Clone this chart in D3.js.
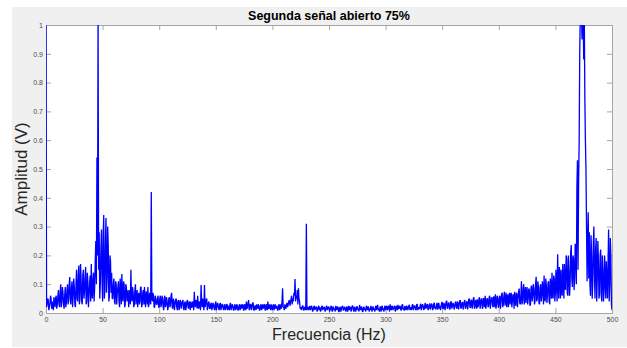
<!DOCTYPE html>
<html>
<head>
<meta charset="utf-8">
<script src="https://cdn.jsdelivr.net/npm/d3@7"></script>
<style>
  html, body { margin: 0; padding: 0; background: #ffffff; }
  svg { display: block; font-family: "Liberation Sans", Arial, sans-serif; }
</style>
</head>
<body>
<div id="chart"></div>
<script>
// Amplitude spectrum.
// ampXtoY: bins at whole Hz; halfXtoY: bins at whole Hz + 0.5
const freqStep = 1;
const amp0to99 = [
  1.0, 0.03, 0.045, 0.02, 0.06, 0.015, 0.04, 0.055, 0.02, 0.06,
  0.03, 0.08, 0.02, 0.1, 0.04, 0.07, 0.015, 0.09, 0.035, 0.1,
  0.05, 0.125, 0.03, 0.11, 0.06, 0.09, 0.02, 0.15, 0.04, 0.165,
  0.05, 0.12, 0.03, 0.15, 0.07, 0.16, 0.04, 0.11, 0.06, 0.13,
  0.17, 0.05, 0.14, 0.09, 0.25, 0.54, 1.05, 0.28, 0.1, 0.29,
  0.04, 0.34, 0.08, 0.33, 0.12, 0.23, 0.06, 0.18, 0.14, 0.05,
  0.12, 0.03, 0.1, 0.07, 0.11, 0.02, 0.08, 0.135, 0.04, 0.1,
  0.03, 0.09, 0.06, 0.02, 0.08, 0.15, 0.04, 0.07, 0.03, 0.1,
  0.05, 0.02, 0.07, 0.04, 0.09, 0.03, 0.08, 0.09, 0.02, 0.06,
  0.09, 0.03, 0.05, 0.42, 0.04, 0.06, 0.02, 0.05, 0.03, 0.06
];
const half0to99 = [
  0.02, 0.05, 0.01, 0.035, 0.05, 0.02, 0.01, 0.04, 0.05, 0.015,
  0.06, 0.03, 0.07, 0.02, 0.09, 0.03, 0.06, 0.02, 0.08, 0.03,
  0.1, 0.04, 0.09, 0.02, 0.12, 0.03, 0.1, 0.05, 0.13, 0.03,
  0.17, 0.04, 0.13, 0.05, 0.12, 0.03, 0.14, 0.02, 0.1, 0.04,
  0.07, 0.12, 0.04, 0.18, 0.1, 0.2, 0.15, 0.05, 0.22, 0.12,
  0.27, 0.05, 0.25, 0.07, 0.3, 0.04, 0.2, 0.07, 0.05, 0.1,
  0.04, 0.11, 0.03, 0.09, 0.04, 0.12, 0.03, 0.05, 0.11, 0.02,
  0.1, 0.04, 0.08, 0.06, 0.03, 0.05, 0.09, 0.02, 0.08, 0.03,
  0.08, 0.06, 0.03, 0.09, 0.02, 0.07, 0.03, 0.04, 0.075, 0.03,
  0.02, 0.07, 0.03, 0.05, 0.07, 0.02, 0.06, 0.03, 0.05, 0.02
];
const amp100to199 = [
  0.02, 0.06, 0.03, 0.05, 0.01, 0.06, 0.03, 0.04, 0.02, 0.055,
  0.03, 0.07, 0.015, 0.04, 0.03, 0.05, 0.01, 0.045, 0.02, 0.04,
  0.03, 0.045, 0.01, 0.04, 0.025, 0.045, 0.015, 0.035, 0.04, 0.02,
  0.03, 0.074, 0.02, 0.04, 0.06, 0.015, 0.035, 0.097, 0.02, 0.03,
  0.097, 0.03, 0.05, 0.02, 0.04, 0.015, 0.035, 0.02, 0.03, 0.01,
  0.04, 0.02, 0.03, 0.01, 0.035, 0.02, 0.03, 0.01, 0.03, 0.015,
  0.03, 0.02, 0.01, 0.035, 0.02, 0.025, 0.01, 0.03, 0.015, 0.025,
  0.01, 0.03, 0.02, 0.015, 0.03, 0.01, 0.025, 0.04, 0.02, 0.045,
  0.015, 0.03, 0.02, 0.035, 0.01, 0.025, 0.03, 0.015, 0.025, 0.01,
  0.03, 0.02, 0.015, 0.03, 0.01, 0.025, 0.04, 0.015, 0.02, 0.03
];
const half100to199 = [
  0.05, 0.02, 0.06, 0.02, 0.05, 0.02, 0.055, 0.01, 0.05, 0.02,
  0.06, 0.02, 0.05, 0.01, 0.045, 0.02, 0.04, 0.01, 0.045, 0.015,
  0.04, 0.015, 0.035, 0.01, 0.04, 0.02, 0.04, 0.01, 0.02, 0.04,
  0.01, 0.03, 0.045, 0.015, 0.025, 0.04, 0.01, 0.04, 0.05, 0.01,
  0.02, 0.045, 0.01, 0.035, 0.015, 0.03, 0.01, 0.035, 0.015, 0.03,
  0.01, 0.035, 0.015, 0.03, 0.01, 0.03, 0.015, 0.025, 0.01, 0.03,
  0.01, 0.025, 0.03, 0.01, 0.03, 0.01, 0.025, 0.01, 0.03, 0.01,
  0.025, 0.01, 0.03, 0.025, 0.01, 0.03, 0.01, 0.015, 0.035, 0.01,
  0.03, 0.01, 0.035, 0.01, 0.025, 0.01, 0.02, 0.03, 0.01, 0.025,
  0.01, 0.03, 0.025, 0.01, 0.03, 0.01, 0.015, 0.03, 0.01, 0.02
];
const amp200to299 = [
  0.01, 0.03, 0.02, 0.015, 0.025, 0.01, 0.03, 0.02, 0.015, 0.086,
  0.02, 0.03, 0.015, 0.035, 0.03, 0.045, 0.035, 0.06, 0.05, 0.07,
  0.118, 0.06, 0.08, 0.086, 0.04, 0.02, 0.015, 0.025, 0.01, 0.02,
  0.31, 0.02, 0.01, 0.025, 0.015, 0.02, 0.01, 0.025, 0.015, 0.02,
  0.01, 0.025, 0.02, 0.01, 0.025, 0.015, 0.02, 0.01, 0.025, 0.015,
  0.02, 0.01, 0.025, 0.005, 0.02, 0.015, 0.025, 0.01, 0.02, 0.005,
  0.02, 0.015, 0.025, 0.01, 0.02, 0.005, 0.022, 0.015, 0.01, 0.02,
  0.015, 0.025, 0.005, 0.02, 0.01, 0.022, 0.015, 0.028, 0.01, 0.02,
  0.005, 0.02, 0.015, 0.025, 0.01, 0.02, 0.015, 0.025, 0.005, 0.022,
  0.015, 0.02, 0.01, 0.028, 0.015, 0.02, 0.005, 0.025, 0.015, 0.02
];
const half200to299 = [
  0.025, 0.01, 0.03, 0.02, 0.01, 0.025, 0.01, 0.03, 0.04, 0.02,
  0.01, 0.02, 0.03, 0.02, 0.04, 0.025, 0.05, 0.03, 0.04, 0.06,
  0.04, 0.05, 0.03, 0.05, 0.015, 0.01, 0.025, 0.01, 0.02, 0.01,
  0.01, 0.02, 0.015, 0.01, 0.025, 0.005, 0.02, 0.01, 0.022, 0.005,
  0.02, 0.01, 0.005, 0.022, 0.01, 0.02, 0.005, 0.02, 0.01, 0.022,
  0.005, 0.02, 0.01, 0.022, 0.01, 0.005, 0.015, 0.022, 0.005, 0.02,
  0.005, 0.022, 0.01, 0.02, 0.01, 0.02, 0.005, 0.025, 0.02, 0.005,
  0.025, 0.01, 0.02, 0.005, 0.022, 0.01, 0.005, 0.015, 0.022, 0.005,
  0.02, 0.01, 0.005, 0.02, 0.022, 0.005, 0.01, 0.015, 0.02, 0.01,
  0.005, 0.025, 0.02, 0.01, 0.005, 0.022, 0.02, 0.01, 0.005, 0.025
];
const amp300to399 = [
  0.01, 0.025, 0.015, 0.02, 0.03, 0.01, 0.022, 0.015, 0.025, 0.01,
  0.02, 0.028, 0.015, 0.022, 0.01, 0.03, 0.018, 0.025, 0.01, 0.022,
  0.015, 0.028, 0.02, 0.012, 0.03, 0.018, 0.025, 0.01, 0.03, 0.02,
  0.015, 0.032, 0.02, 0.028, 0.012, 0.035, 0.02, 0.03, 0.015, 0.033,
  0.02, 0.03, 0.015, 0.036, 0.022, 0.03, 0.012, 0.035, 0.025, 0.02,
  0.038, 0.015, 0.03, 0.025, 0.042, 0.02, 0.035, 0.015, 0.038, 0.025,
  0.03, 0.02, 0.04, 0.015, 0.035, 0.028, 0.045, 0.02, 0.038, 0.025,
  0.045, 0.02, 0.04, 0.03, 0.05, 0.018, 0.045, 0.03, 0.055, 0.02,
  0.04, 0.048, 0.025, 0.055, 0.03, 0.05, 0.02, 0.045, 0.06, 0.03,
  0.05, 0.025, 0.06, 0.035, 0.055, 0.02, 0.05, 0.065, 0.03, 0.055
];
const half300to399 = [
  0.02, 0.01, 0.025, 0.005, 0.015, 0.025, 0.01, 0.022, 0.005, 0.025,
  0.01, 0.015, 0.025, 0.01, 0.028, 0.012, 0.008, 0.015, 0.025, 0.01,
  0.025, 0.01, 0.012, 0.028, 0.01, 0.025, 0.012, 0.03, 0.01, 0.015,
  0.025, 0.01, 0.03, 0.012, 0.025, 0.015, 0.03, 0.01, 0.028, 0.012,
  0.033, 0.01, 0.03, 0.015, 0.012, 0.035, 0.025, 0.015, 0.01, 0.035,
  0.015, 0.035, 0.01, 0.04, 0.015, 0.035, 0.012, 0.04, 0.015, 0.035,
  0.012, 0.035, 0.02, 0.04, 0.012, 0.042, 0.015, 0.035, 0.012, 0.04,
  0.015, 0.038, 0.012, 0.048, 0.02, 0.045, 0.015, 0.05, 0.015, 0.045,
  0.015, 0.02, 0.05, 0.015, 0.048, 0.015, 0.052, 0.02, 0.015, 0.05,
  0.02, 0.055, 0.015, 0.05, 0.025, 0.058, 0.02, 0.015, 0.06, 0.02
];
const amp400to500 = [
  0.02, 0.06, 0.04, 0.07, 0.03, 0.074, 0.045, 0.02, 0.065, 0.05,
  0.03, 0.07, 0.04, 0.06, 0.074, 0.025, 0.065, 0.05, 0.085, 0.03,
  0.11, 0.04, 0.1, 0.06, 0.035, 0.09, 0.05, 0.08, 0.03, 0.095,
  0.06, 0.085, 0.04, 0.126, 0.05, 0.09, 0.03, 0.1, 0.06, 0.08,
  0.13, 0.04, 0.095, 0.06, 0.11, 0.03, 0.09, 0.14, 0.05, 0.12,
  0.07, 0.1, 0.204, 0.05, 0.13, 0.15, 0.06, 0.11, 0.17, 0.08,
  0.19, 0.06, 0.14, 0.1, 0.236, 0.09, 0.19, 0.12, 0.22, 0.44,
  0.15, 0.6, 1.05, 1.05, 1.05, 0.88, 0.75, 0.5, 0.11, 0.35,
  0.28, 0.06, 0.2, 0.1, 0.3, 0.05, 0.26, 0.12, 0.18, 0.07,
  0.22, 0.04, 0.15, 0.08, 0.12, 0.18, 0.05, 0.29, 0.1, 0.2,
  0.01
];
const half400to499 = [
  0.055, 0.015, 0.065, 0.02, 0.06, 0.025, 0.07, 0.055, 0.02, 0.07,
  0.06, 0.02, 0.065, 0.015, 0.04, 0.07, 0.02, 0.075, 0.035, 0.06,
  0.03, 0.085, 0.03, 0.09, 0.07, 0.03, 0.085, 0.025, 0.09, 0.04,
  0.1, 0.03, 0.1, 0.04, 0.11, 0.035, 0.09, 0.04, 0.11, 0.03,
  0.05, 0.12, 0.035, 0.105, 0.04, 0.12, 0.05, 0.06, 0.13, 0.04,
  0.15, 0.04, 0.09, 0.16, 0.05, 0.07, 0.17, 0.05, 0.09, 0.2,
  0.07, 0.2, 0.06, 0.21, 0.12, 0.2, 0.08, 0.24, 0.1, 0.53,
  0.45, 0.9, 1.05, 0.95, 1.05, 1.05, 0.6, 0.3, 0.25, 0.12,
  0.1, 0.27, 0.05, 0.24, 0.13, 0.22, 0.04, 0.25, 0.05, 0.2,
  0.06, 0.2, 0.04, 0.2, 0.05, 0.12, 0.17, 0.04, 0.26, 0.03
];
const xTicks = [0, 50, 100, 150, 200, 250, 300, 350, 400, 450, 500];
const yTicks = [0, 0.1, 0.2, 0.3, 0.4, 0.5, 0.6, 0.7, 0.8, 0.9, 1];
const yTickLabels = ["0", "0.1", "0.2", "0.3", "0.4", "0.5", "0.6", "0.7", "0.8", "0.9", "1"];

const amps = [].concat(amp0to99, amp100to199, amp200to299, amp300to399, amp400to500);
const halves = [].concat(half0to99, half100to199, half200to299, half300to399, half400to499);
const data = [];
amps.forEach((a, i) => {
  data.push({ f: i * freqStep, a: a });
  if (i < halves.length) data.push({ f: (i + 0.5) * freqStep, a: halves[i] });
});

const W = 627, H = 348;
const plot = { left: 46, right: 612, top: 25, bottom: 313 };

const svg = d3.select("#chart").append("svg")
  .attr("width", W).attr("height", H);

// figure background
svg.append("rect")
  .attr("x", 12).attr("y", 7)
  .attr("width", W - 12).attr("height", 340)
  .attr("fill", "#f0f0f0");

svg.append("rect")
  .attr("x", plot.left).attr("y", plot.top)
  .attr("width", plot.right - plot.left).attr("height", plot.bottom - plot.top)
  .attr("fill", "#ffffff");

const x = d3.scaleLinear().domain([0, 500]).range([plot.left, plot.right]);
const y = d3.scaleLinear().domain([0, 1]).range([plot.bottom, plot.top]);

svg.append("defs").append("clipPath").attr("id", "clip")
  .append("rect")
  .attr("x", plot.left).attr("y", plot.top)
  .attr("width", plot.right - plot.left).attr("height", plot.bottom - plot.top);

// axes: ticks inside, box on
const tickLen = 5;
const axisColor = "#a6a6a6";
const labelColor = "#4d4d4d";

const gx = svg.append("g").attr("transform", `translate(0,${plot.bottom})`)
  .call(d3.axisBottom(x).tickValues(xTicks).tickSize(-tickLen).tickPadding(4).tickFormat(d3.format("d")));
const gxTop = svg.append("g").attr("transform", `translate(0,${plot.top})`)
  .call(d3.axisTop(x).tickValues(xTicks).tickSize(-tickLen).tickFormat(""));
const gy = svg.append("g").attr("transform", `translate(${plot.left},0)`)
  .call(d3.axisLeft(y).tickValues(yTicks).tickSize(-tickLen).tickPadding(3)
    .tickFormat((d, i) => yTickLabels[i]));
const gyRight = svg.append("g").attr("transform", `translate(${plot.right},0)`)
  .call(d3.axisRight(y).tickValues(yTicks).tickSize(-tickLen).tickFormat(""));

[gx, gxTop, gy, gyRight].forEach(g => {
  g.select(".domain").attr("stroke", axisColor).attr("stroke-width", 1);
  g.selectAll(".tick line").attr("stroke", axisColor);
  g.selectAll(".tick text")
    .attr("fill", labelColor)
    .style("font-size", "7px")
    .style("font-family", "'Liberation Sans', Arial, sans-serif");
});

// spectrum line
const line = d3.line().x(d => x(d.f)).y(d => y(d.a));
svg.append("path")
  .datum(data)
  .attr("clip-path", "url(#clip)")
  .attr("fill", "none")
  .attr("stroke", "#0000ff")
  .attr("stroke-width", 1.3)
  .attr("stroke-linejoin", "bevel")
  .attr("d", line);

// title
svg.append("text")
  .attr("x", (plot.left + plot.right) / 2)
  .attr("y", 20)
  .attr("text-anchor", "middle")
  .style("font-size", "12.5px")
  .style("font-weight", "bold")
  .attr("fill", "#000")
  .text("Segunda señal abierto 75%");

// x label
svg.append("text")
  .attr("x", (plot.left + plot.right) / 2)
  .attr("y", 340)
  .attr("text-anchor", "middle")
  .style("font-size", "16px")
  .attr("fill", "#262626")
  .text("Frecuencia (Hz)");

// y label
svg.append("text")
  .attr("transform", `translate(27,${(plot.top + plot.bottom) / 2}) rotate(-90)`)
  .attr("text-anchor", "middle")
  .style("font-size", "17px")
  .attr("fill", "#262626")
  .text("Amplitud (V)");
</script>
</body>
</html>
